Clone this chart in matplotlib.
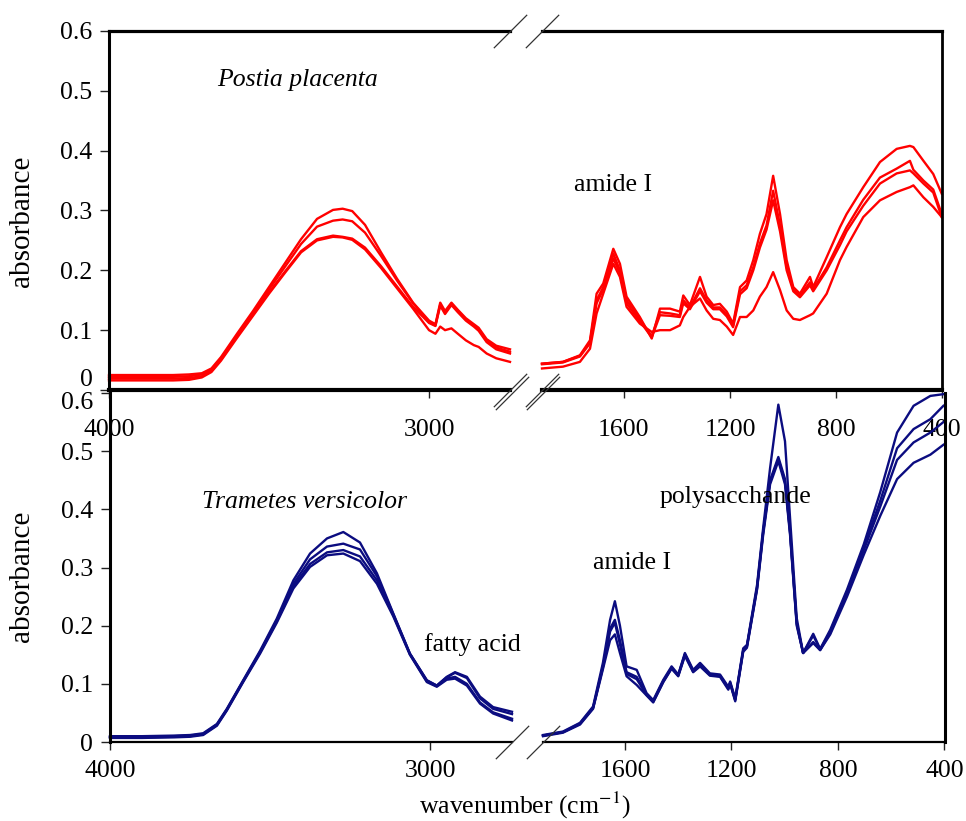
import matplotlib
matplotlib.use('Agg')
import matplotlib.pyplot as plt

plt.rcParams['font.family'] = ['Liberation Serif', 'DejaVu Serif']
plt.rcParams['mathtext.fontset'] = 'stix'

W, H = 966, 821

# 1. 数据：上图 Postia placenta（红色），左段 4000-2750，右段 1900-400
TL_WN = [4000, 3900, 3800, 3750, 3710, 3680, 3650, 3600, 3550, 3500, 3450, 3400, 3350, 3300, 3270, 3240,
         3200, 3150, 3100, 3050, 3000, 2980, 2965, 2950, 2930, 2910, 2885, 2860, 2845, 2820, 2790, 2747]
TL_A = [0.025, 0.025, 0.025, 0.026, 0.028, 0.036, 0.055, 0.094, 0.132, 0.172, 0.212, 0.252, 0.286, 0.301, 0.303, 0.299,
        0.276, 0.230, 0.186, 0.146, 0.116, 0.110, 0.146, 0.132, 0.146, 0.134, 0.120, 0.110, 0.104, 0.085, 0.074, 0.068]
TL_B = [0.022, 0.022, 0.022, 0.023, 0.026, 0.034, 0.053, 0.091, 0.129, 0.168, 0.206, 0.244, 0.273, 0.283, 0.285, 0.282,
        0.263, 0.224, 0.183, 0.145, 0.114, 0.108, 0.143, 0.129, 0.144, 0.132, 0.118, 0.108, 0.101, 0.082, 0.071, 0.064]
TL_C = [0.019, 0.019, 0.019, 0.020, 0.023, 0.032, 0.051, 0.089, 0.126, 0.163, 0.198, 0.232, 0.252, 0.258, 0.256, 0.253,
        0.238, 0.207, 0.173, 0.139, 0.112, 0.107, 0.141, 0.127, 0.142, 0.130, 0.116, 0.106, 0.099, 0.080, 0.068, 0.061]
TL_D = [0.016, 0.016, 0.016, 0.017, 0.021, 0.030, 0.049, 0.087, 0.124, 0.161, 0.196, 0.230, 0.250, 0.256, 0.255, 0.251,
        0.235, 0.204, 0.170, 0.136, 0.100, 0.094, 0.106, 0.100, 0.103, 0.094, 0.083, 0.075, 0.072, 0.061, 0.053, 0.047]

TR_WN = [1909, 1830, 1766, 1728, 1703, 1678, 1640, 1615, 1590, 1565, 1540, 1495, 1464, 1426, 1389, 1376,
         1351, 1313, 1288, 1263, 1238, 1212, 1188, 1162, 1137, 1112, 1087, 1062, 1037, 1011, 986, 961,
         936, 898, 886, 835, 785, 760, 697, 634, 571, 521, 508, 470, 433, 401]
TR_A = [0.044, 0.047, 0.058, 0.083, 0.161, 0.178, 0.236, 0.211, 0.156, 0.139, 0.122, 0.086, 0.136, 0.136, 0.131, 0.158,
        0.142, 0.189, 0.156, 0.142, 0.144, 0.131, 0.111, 0.172, 0.183, 0.217, 0.261, 0.294, 0.358, 0.294, 0.217, 0.172,
        0.161, 0.189, 0.172, 0.222, 0.272, 0.294, 0.339, 0.381, 0.403, 0.408, 0.406, 0.383, 0.361, 0.328]
TR_B = [0.044, 0.047, 0.057, 0.080, 0.150, 0.172, 0.228, 0.200, 0.150, 0.135, 0.118, 0.090, 0.130, 0.128, 0.125, 0.150,
        0.138, 0.170, 0.150, 0.138, 0.138, 0.126, 0.108, 0.165, 0.175, 0.205, 0.245, 0.275, 0.333, 0.275, 0.205, 0.168,
        0.158, 0.180, 0.168, 0.205, 0.250, 0.272, 0.318, 0.355, 0.370, 0.383, 0.368, 0.350, 0.335, 0.294]
TR_C = [0.043, 0.046, 0.056, 0.078, 0.145, 0.168, 0.220, 0.195, 0.145, 0.130, 0.115, 0.088, 0.125, 0.124, 0.122, 0.145,
        0.135, 0.165, 0.146, 0.135, 0.135, 0.123, 0.105, 0.160, 0.170, 0.200, 0.238, 0.268, 0.317, 0.265, 0.200, 0.165,
        0.155, 0.175, 0.165, 0.200, 0.242, 0.265, 0.308, 0.345, 0.362, 0.367, 0.362, 0.345, 0.330, 0.289]
TR_D = [0.036, 0.039, 0.047, 0.069, 0.128, 0.161, 0.211, 0.189, 0.139, 0.125, 0.111, 0.097, 0.100, 0.100, 0.108, 0.122,
        0.139, 0.153, 0.133, 0.119, 0.117, 0.106, 0.092, 0.122, 0.122, 0.133, 0.156, 0.172, 0.197, 0.167, 0.133, 0.119,
        0.117, 0.125, 0.128, 0.161, 0.217, 0.239, 0.289, 0.317, 0.331, 0.339, 0.342, 0.322, 0.306, 0.289]

# 2. 数据：下图 Trametes versicolor（深蓝）
BL_WN = [4000, 3900, 3800, 3750, 3709, 3666, 3635, 3584, 3531, 3479, 3427, 3375, 3322, 3271, 3219, 3166,
         3115, 3063, 3010, 2979, 2948, 2922, 2885, 2844, 2803, 2744]
BL_A = [0.010, 0.010, 0.011, 0.012, 0.015, 0.031, 0.057, 0.106, 0.157, 0.212, 0.278, 0.324, 0.350, 0.361, 0.343, 0.290,
        0.221, 0.152, 0.106, 0.097, 0.112, 0.120, 0.112, 0.078, 0.060, 0.052]
BL_B = [0.009, 0.009, 0.010, 0.011, 0.014, 0.030, 0.056, 0.105, 0.155, 0.209, 0.272, 0.314, 0.336, 0.341, 0.331, 0.285,
        0.220, 0.152, 0.106, 0.097, 0.111, 0.119, 0.110, 0.075, 0.057, 0.048]
BL_C = [0.008, 0.008, 0.009, 0.010, 0.013, 0.029, 0.055, 0.104, 0.154, 0.207, 0.268, 0.306, 0.326, 0.330, 0.319, 0.278,
        0.218, 0.151, 0.104, 0.096, 0.109, 0.112, 0.100, 0.068, 0.051, 0.040]
BL_D = [0.007, 0.007, 0.008, 0.009, 0.012, 0.028, 0.054, 0.103, 0.152, 0.205, 0.264, 0.301, 0.321, 0.324, 0.311, 0.272,
        0.216, 0.150, 0.103, 0.095, 0.107, 0.109, 0.097, 0.066, 0.049, 0.037]

BR_WN = [1908, 1833, 1769, 1720, 1683, 1656, 1638, 1619, 1594, 1556, 1519, 1494, 1456, 1425, 1400, 1375,
         1344, 1318, 1281, 1243, 1212, 1205, 1186, 1156, 1142, 1104, 1081, 1055, 1024, 999, 980, 955,
         931, 893, 867, 829, 766, 703, 641, 578, 516, 453, 404]
BR_A = [0.012, 0.018, 0.033, 0.061, 0.136, 0.210, 0.242, 0.200, 0.130, 0.124, 0.084, 0.072, 0.107, 0.130, 0.116, 0.153,
        0.124, 0.136, 0.118, 0.116, 0.095, 0.104, 0.075, 0.161, 0.167, 0.270, 0.368, 0.471, 0.580, 0.517, 0.385, 0.213,
        0.153, 0.186, 0.160, 0.193, 0.262, 0.340, 0.430, 0.532, 0.578, 0.595, 0.598]
BR_B = [0.011, 0.017, 0.032, 0.059, 0.130, 0.195, 0.210, 0.175, 0.120, 0.112, 0.082, 0.070, 0.105, 0.128, 0.115, 0.151,
        0.122, 0.134, 0.116, 0.114, 0.093, 0.102, 0.073, 0.158, 0.165, 0.266, 0.362, 0.450, 0.490, 0.452, 0.362, 0.205,
        0.153, 0.183, 0.159, 0.190, 0.258, 0.335, 0.415, 0.505, 0.538, 0.555, 0.578]
BR_C = [0.011, 0.017, 0.031, 0.058, 0.128, 0.190, 0.205, 0.168, 0.117, 0.108, 0.081, 0.069, 0.104, 0.127, 0.114, 0.150,
        0.121, 0.132, 0.115, 0.113, 0.092, 0.101, 0.072, 0.157, 0.164, 0.264, 0.360, 0.448, 0.486, 0.448, 0.360, 0.203,
        0.153, 0.172, 0.158, 0.188, 0.255, 0.330, 0.405, 0.485, 0.515, 0.532, 0.550]
BR_D = [0.010, 0.016, 0.030, 0.057, 0.125, 0.175, 0.185, 0.153, 0.113, 0.098, 0.080, 0.068, 0.103, 0.126, 0.113, 0.148,
        0.120, 0.130, 0.114, 0.112, 0.090, 0.100, 0.070, 0.155, 0.162, 0.262, 0.356, 0.443, 0.483, 0.443, 0.356, 0.200,
        0.153, 0.170, 0.158, 0.185, 0.250, 0.322, 0.389, 0.452, 0.480, 0.494, 0.511]

Y_TICKS = [0, 0.1, 0.2, 0.3, 0.4, 0.5, 0.6]
LEFT_TICKS = [4000, 3000]
RIGHT_TICKS = [1600, 1200, 800, 400]

RED = '#ff0000'
NAVY = '#0b0c80'
FS = 18.5


def px_box(x0, y0, x1, y1):
    # 像素坐标 -> figure 比例坐标
    return [x0 / W, 1 - y1 / H, (x1 - x0) / W, (y1 - y0) / H]


def slash(ax, x, y):
    # 断轴斜线
    ax.plot([x], [y], transform=ax.transAxes, marker=[(-1, -1), (1, 1)], markersize=24,
            markeredgewidth=0.9, color='#333333', clip_on=False, zorder=6)


fig = plt.figure(figsize=(W / 100, H / 100), dpi=100)

ax_tl = fig.add_axes(px_box(109, 31, 510, 390))
ax_tr = fig.add_axes(px_box(542, 31, 942, 390))
ax_bl = fig.add_axes(px_box(110, 393, 512, 742))
ax_br = fig.add_axes(px_box(543, 393, 945, 742))

for ax, wn, ys, col in [
    (ax_tl, TL_WN, [TL_A, TL_B, TL_C, TL_D], RED),
    (ax_tr, TR_WN, [TR_A, TR_B, TR_C, TR_D], RED),
    (ax_bl, BL_WN, [BL_A, BL_B, BL_C, BL_D], NAVY),
    (ax_br, BR_WN, [BR_A, BR_B, BR_C, BR_D], NAVY),
]:
    for y in ys:
        ax.plot(wn, y, color=col, lw=1.7, clip_on=False, solid_joinstyle='round')
    ax.set_facecolor('none')
    ax.set_ylim(0, 0.6)
    ax.tick_params(labelsize=FS, direction='out', length=6, width=1, color='#222222')

ax_tl.set_xlim(4000, 2747)
ax_bl.set_xlim(4000, 2744)
ax_tr.set_xlim(1909, 400)
ax_br.set_xlim(1908, 398)

for ax in (ax_tl, ax_bl):
    ax.set_xticks(LEFT_TICKS)
    ax.set_xticklabels([str(t) for t in LEFT_TICKS])
    ax.set_yticks(Y_TICKS)
    ax.spines['right'].set_visible(False)
for ax in (ax_tr, ax_br):
    ax.set_xticks(RIGHT_TICKS)
    ax.set_xticklabels([str(t) for t in RIGHT_TICKS])
    ax.set_yticks([])
    ax.spines['left'].set_visible(False)

ax_tl.set_yticklabels([''] + ['0.1', '0.2', '0.3', '0.4', '0.5', '0.6'])
ax_bl.set_yticklabels(['0', '0.1', '0.2', '0.3', '0.4', '0.5', ''])
for ax in (ax_tl, ax_bl):
    ax.tick_params(axis='y', length=6.5, pad=5.5)

# 上图的 x 刻度标签落在下图区域内
for ax in (ax_tl, ax_tr):
    ax.tick_params(axis='x', pad=15)
for ax in (ax_bl, ax_br):
    ax.tick_params(axis='x', pad=7)

# 边框线宽
for ax in (ax_tl, ax_tr):
    ax.spines['top'].set_linewidth(2.3)
    ax.spines['bottom'].set_linewidth(3.0)
ax_tl.spines['left'].set_linewidth(2.2)
ax_tr.spines['right'].set_linewidth(2.0)
for ax in (ax_bl, ax_br):
    ax.spines['top'].set_visible(False)
    ax.spines['bottom'].set_linewidth(1.6)
ax_bl.spines['left'].set_linewidth(2.2)
ax_br.spines['right'].set_linewidth(2.2)

for ax in (ax_tl, ax_bl):
    slash(ax, 1, 0)
    slash(ax, 1, 1)
for ax in (ax_tr, ax_br):
    slash(ax, 0, 0)
    slash(ax, 0, 1)

# 单独放置的 y 刻度标签（原图中上下错开）
fig.text(93 / W, 1 - 380 / H, '0', fontsize=FS, ha='right', va='center')
fig.text(93 / W, 1 - 403 / H, '0.6', fontsize=FS, ha='right', va='center')

# 3. 文字标注
fig.text(298 / W, 1 - 80 / H, 'Postia placenta', fontsize=FS, style='italic', ha='center', va='center')
fig.text(305 / W, 1 - 502 / H, 'Trametes versicolor', fontsize=FS, style='italic', ha='center', va='center')
fig.text(472 / W, 1 - 645 / H, 'fatty acid', fontsize=FS, ha='center', va='center')
fig.text(613 / W, 1 - 185 / H, 'amide I', fontsize=FS, ha='center', va='center')
fig.text(632 / W, 1 - 563 / H, 'amide I', fontsize=FS, ha='center', va='center')
fig.text(735 / W, 1 - 497 / H, 'polysacchande', fontsize=FS, ha='center', va='center')

fig.text(22 / W, 1 - 221 / H, 'absorbance', fontsize=21, rotation=90, ha='center', va='center')
fig.text(22 / W, 1 - 576 / H, 'absorbance', fontsize=21, rotation=90, ha='center', va='center')
fig.text(525 / W, 1 - 805 / H, 'wavenumber (cm$^{-1}$)', fontsize=FS, ha='center', va='center')

plt.savefig('out.png', dpi=100)
